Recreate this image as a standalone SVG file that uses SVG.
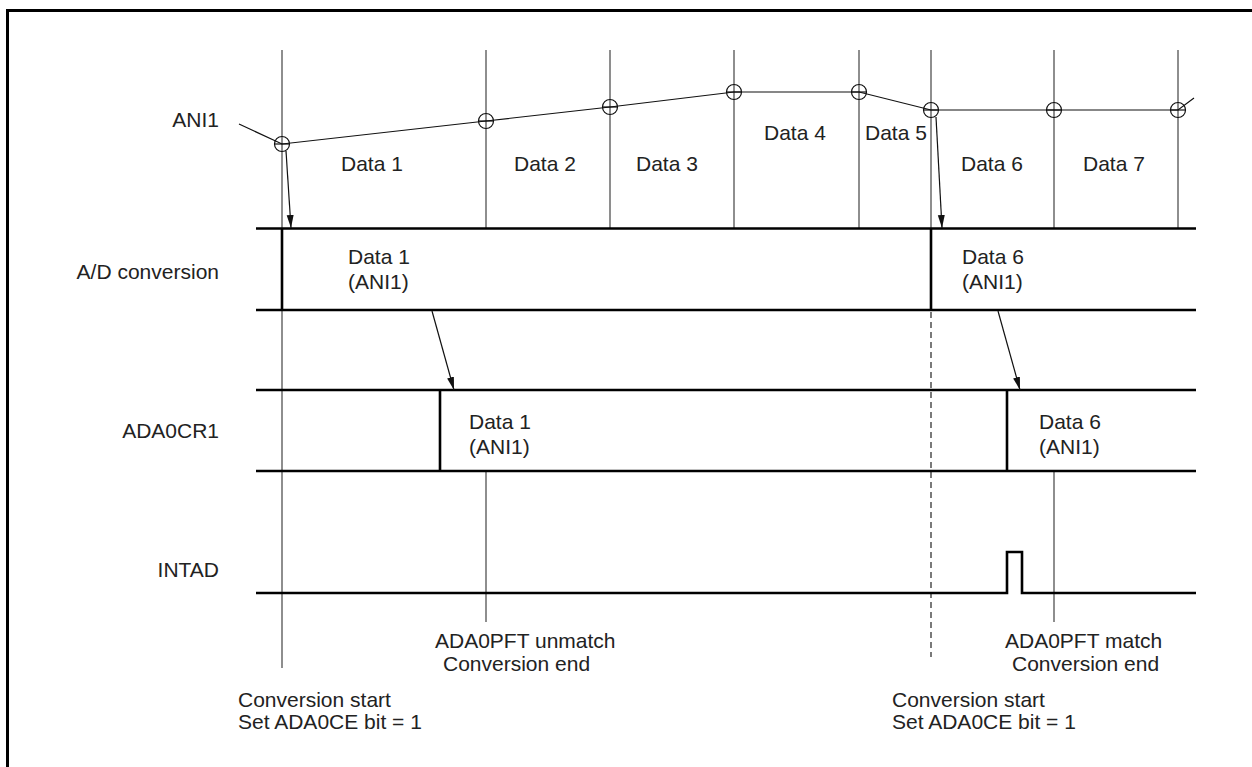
<svg xmlns="http://www.w3.org/2000/svg" width="1252" height="767" viewBox="0 0 1252 767">
<defs>
<style>
text{font-family:"Liberation Sans",Arial,sans-serif;font-size:21px;fill:#222}
.lab{text-anchor:end}
.grid{stroke:#444;stroke-width:1.2;fill:none}
.dash{stroke:#222;stroke-width:1.2;stroke-dasharray:6,4;fill:none}
.sig{stroke:#000;stroke-width:2.6;fill:none}
.wave{stroke:#111;stroke-width:1.2;fill:none}
.pt{stroke:#111;stroke-width:1.2;fill:none}
.arr{stroke:#111;stroke-width:1.2;fill:none;marker-end:url(#ah)}
</style>
<marker id="ah" markerUnits="userSpaceOnUse" markerWidth="14" markerHeight="8" refX="13" refY="3.5" orient="auto">
<path d="M0,0 L13,3.5 L0,7 Z" fill="#111"/>
</marker>
</defs>
<rect width="1252" height="767" fill="#fff"/>
<path d="M7.5,767 V10.5 H1252" fill="none" stroke="#000" stroke-width="3"/>

<g id="grid">
<path class="grid" d="M282,50 V668 M486,50 V228 M486,471 V622 M610,50 V228 M734,50 V228 M859,50 V228 M931,50 V310 M1054,50 V228 M1054,471 V622 M1178,50 V228"/>
<path class="dash" d="M931,312 V657"/>
</g>

<g id="ani1">
<text class="lab" x="219" y="127">ANI1</text>
<polyline class="wave" points="239,124 282,144 486,121 610,107 734,92 859,92 931,110 1054,110 1178,110 1194,98"/>
<g class="pt">
<circle cx="282" cy="144" r="7.5"/><path d="M274.5,144 H289.5"/>
<circle cx="486" cy="121" r="7.5"/><path d="M478.5,121 H493.5"/>
<circle cx="610" cy="107" r="7.5"/><path d="M602.5,107 H617.5"/>
<circle cx="734" cy="92" r="7.5"/><path d="M726.5,92 H741.5"/>
<circle cx="859" cy="92" r="7.5"/><path d="M851.5,92 H866.5"/>
<circle cx="931" cy="110" r="7.5"/><path d="M923.5,110 H938.5"/>
<circle cx="1054" cy="110" r="7.5"/><path d="M1046.5,110 H1061.5"/>
<circle cx="1178" cy="110" r="7.5"/><path d="M1170.5,110 H1185.5"/>
</g>
<text x="341" y="171">Data 1</text>
<text x="514" y="171">Data 2</text>
<text x="636" y="171">Data 3</text>
<text x="764" y="140">Data 4</text>
<text x="865" y="140">Data 5</text>
<text x="961" y="171">Data 6</text>
<text x="1083" y="171">Data 7</text>
</g>

<g id="adconv">
<text class="lab" x="219" y="279">A/D conversion</text>
<path class="sig" d="M256,228.5 H1196 M256,310 H1196 M282,228.5 V310 M931,228.5 V310"/>
<text x="348" y="264">Data 1</text>
<text x="348" y="289">(ANI1)</text>
<text x="962" y="264">Data 6</text>
<text x="962" y="289">(ANI1)</text>
</g>

<g id="ada0cr1">
<text class="lab" x="219" y="438">ADA0CR1</text>
<path class="sig" d="M256,390 H1196 M256,471 H1196 M440,390 V471 M1007,390 V471"/>
<text x="469" y="429">Data 1</text>
<text x="469" y="454">(ANI1)</text>
<text x="1039" y="429">Data 6</text>
<text x="1039" y="454">(ANI1)</text>
</g>

<g id="intad">
<text class="lab" x="219" y="577">INTAD</text>
<path class="sig" d="M256,593 H1007 V552 H1022 V593 H1196"/>
</g>

<g id="connectors">
<line class="arr" x1="286" y1="151" x2="291" y2="228"/>
<line class="arr" x1="936" y1="117" x2="942" y2="228"/>
<line class="arr" x1="432" y1="311" x2="454" y2="390"/>
<line class="arr" x1="998" y1="311" x2="1020" y2="390"/>
</g>

<g id="notes">
<text x="435" y="648">ADA0PFT unmatch</text>
<text x="443" y="671">Conversion end</text>
<text x="1005" y="648">ADA0PFT match</text>
<text x="1012" y="671">Conversion end</text>
<text x="238" y="707">Conversion start</text>
<text x="238" y="729">Set ADA0CE bit = 1</text>
<text x="892" y="707">Conversion start</text>
<text x="892" y="729">Set ADA0CE bit = 1</text>
</g>
</svg>
